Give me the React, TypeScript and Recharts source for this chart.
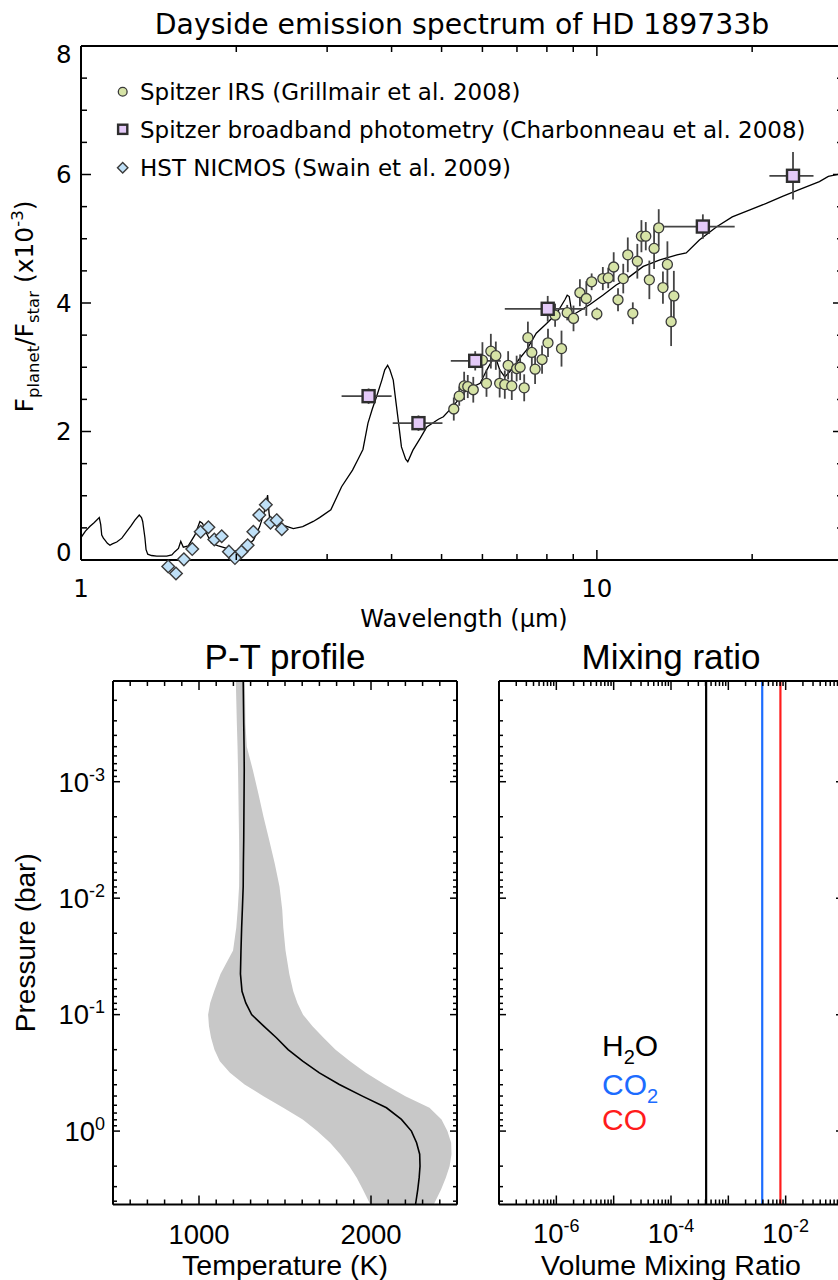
import React from 'react';
import { ComposedChart, Line, Scatter, ErrorBar, XAxis, YAxis, Area, Legend } from 'recharts';

const FONT_TOP = '"DejaVu Sans", sans-serif';
const FONT_BOT = '"Liberation Sans", Arial, sans-serif';

// ---------------- Top panel: dayside emission spectrum ----------------
// model spectrum: [wavelength (µm), Fplanet/Fstar (x1e-3)]
const modelSpectrum: [number, number][] = [
  [1.0, 0.35], [1.02, 0.45], [1.04, 0.52], [1.06, 0.58], [1.085, 0.66], [1.092, 0.55], [1.097, 0.39],
  [1.105, 0.34], [1.113, 0.31], [1.125, 0.26], [1.138, 0.23], [1.15, 0.25], [1.173, 0.28], [1.2, 0.34],
  [1.226, 0.44], [1.25, 0.53], [1.272, 0.62], [1.297, 0.7], [1.31, 0.66], [1.317, 0.6], [1.33, 0.35],
  [1.337, 0.16], [1.347, 0.09], [1.37, 0.07], [1.402, 0.06], [1.466, 0.06], [1.5, 0.08], [1.52, 0.13],
  [1.545, 0.18], [1.561, 0.29], [1.579, 0.2], [1.614, 0.22], [1.663, 0.39], [1.7, 0.6], [1.72, 0.57],
  [1.75, 0.42], [1.79, 0.26], [1.846, 0.22], [1.917, 0.18], [1.974, 0.13], [2.034, 0.16], [2.095, 0.21],
  [2.16, 0.31], [2.22, 0.52], [2.263, 0.73], [2.29, 0.93], [2.3, 1.01], [2.315, 0.73], [2.33, 0.54],
  [2.39, 0.6], [2.47, 0.54], [2.58, 0.49], [2.69, 0.52], [2.82, 0.6], [2.9, 0.66], [3.05, 0.78],
  [3.2, 1.14], [3.36, 1.4], [3.45, 1.58], [3.52, 1.72], [3.6, 2.13], [3.67, 2.35], [3.74, 2.54],
  [3.83, 2.8], [3.88, 2.96], [3.93, 3.03], [3.97, 2.96], [4.03, 2.8], [4.08, 2.45], [4.12, 2.18],
  [4.18, 1.76], [4.26, 1.57], [4.3, 1.53], [4.4, 1.71], [4.55, 1.9], [4.68, 2.07], [4.93, 2.19],
  [5.04, 2.23], [5.26, 2.39], [5.59, 2.65], [5.94, 2.75], [6.12, 2.96], [6.25, 3.09], [6.34, 3.19],
  [6.48, 2.96], [6.63, 2.85], [6.83, 2.96], [7.09, 3.14], [7.31, 3.27], [7.63, 3.53], [7.99, 3.68],
  [8.36, 3.84], [8.67, 4.05], [8.76, 4.12], [8.84, 4.1], [8.96, 3.81], [9.27, 3.88], [9.71, 3.98],
  [10.27, 4.12], [10.9, 4.28], [11.44, 4.38], [12.3, 4.57], [13.25, 4.67], [14.3, 4.75], [14.9, 4.78],
  [15.8, 4.98], [17.1, 5.19], [18.3, 5.34], [19.8, 5.45], [21.3, 5.55], [22.9, 5.66], [24.6, 5.76],
  [27.0, 5.89], [28.1, 5.97], [30.0, 6.02],
];

// Spitzer IRS (Grillmair et al. 2008)
const irsWavelength = [5.28, 5.41, 5.53, 5.62, 5.76, 6.0, 6.11, 6.23, 6.37, 6.48, 6.63, 6.73, 6.84, 6.99, 7.1, 7.23,
  7.35, 7.48, 7.59, 7.83, 8.04, 8.3, 8.54, 8.76, 9.01, 9.27, 9.54, 9.77, 10.0, 10.27, 10.52, 10.78, 10.99, 11.25,
  11.48, 11.74, 11.98, 12.2, 12.44, 12.64, 12.91, 13.18, 13.43, 13.7, 13.93, 14.1];
const irsFlux = [2.35, 2.55, 2.71, 2.7, 2.65, 3.11, 2.75, 3.25, 3.18, 2.75, 2.73, 3.03, 2.71, 2.98, 3.0, 2.68,
  3.46, 3.23, 2.97, 3.12, 3.38, 3.81, 3.29, 3.85, 3.76, 4.16, 4.07, 4.33, 3.83, 4.38, 4.39, 4.56, 4.05, 4.38,
  4.75, 3.84, 4.65, 5.04, 5.04, 4.36, 4.85, 5.17, 4.24, 4.6, 3.71, 4.11];
const irsError = [0.18, 0.15, 0.22, 0.18, 0.2, 0.28, 0.21, 0.27, 0.22, 0.22, 0.22, 0.22, 0.22, 0.2, 0.2, 0.21,
  0.25, 0.22, 0.23, 0.22, 0.22, 0.18, 0.28, 0.12, 0.2, 0.21, 0.27, 0.13, 0.1, 0.18, 0.16, 0.23, 0.18, 0.23,
  0.27, 0.17, 0.27, 0.25, 0.22, 0.3, 0.32, 0.29, 0.25, 0.36, 0.38, 0.39];

// Spitzer broadband photometry (Charbonneau et al. 2008)
const photWavelength = [3.61, 4.51, 5.81, 8.03, 16.05, 24.0];
const photFlux = [2.55, 2.13, 3.1, 3.91, 5.19, 5.98];
const photWaveErrLow = [0.41, 0.49, 0.6, 1.4, 2.55, 2.4];
const photWaveErrHigh = [0.39, 0.51, 0.7, 1.45, 2.45, 2.3];
const photFluxErr = [0.12, 0.12, 0.15, 0.2, 0.19, 0.37];

// HST NICMOS (Swain et al. 2009)
const hstWavelength = [1.476, 1.528, 1.583, 1.643, 1.706, 1.766, 1.813, 1.874, 1.935, 1.988, 2.048, 2.104,
  2.158, 2.216, 2.282, 2.33, 2.395, 2.45];
const hstFlux = [-0.1, -0.21, 0.01, 0.17, 0.44, 0.51, 0.32, 0.37, 0.13, 0.03, 0.13, 0.23, 0.44, 0.7, 0.86,
  0.58, 0.62, 0.48];

const legendLabels = [
  'Spitzer IRS (Grillmair et al. 2008)',
  'Spitzer broadband photometry (Charbonneau et al. 2008)',
  'HST NICMOS (Swain et al. 2009)',
];
const legendKinds = ['circle', 'square', 'diamond'];

const specXTicks = [1, 2, 3, 4, 5, 6, 7, 8, 9, 10, 20, 30];
const specXLabels = [1, 10];
const specYTicks = [0, 0.5, 1, 1.5, 2, 2.5, 3, 3.5, 4, 4.5, 5, 5.5, 6, 6.5, 7, 7.5, 8];
const specYLabels = [0, 2, 4, 6, 8];

// ---------------- Bottom-left: P-T profile ----------------
const ptPressure = [1.365e-4, 3.16e-4, 5.01e-4, 7.94e-4, 1.26e-3, 2.0e-3, 3.16e-3, 5.01e-3, 7.94e-3, 1.26e-2,
  1.78e-2, 2.82e-2, 4.47e-2, 6.31e-2, 7.94e-2, 0.1, 0.126, 0.158, 0.2, 0.251, 0.316, 0.398, 0.501, 0.631,
  0.794, 1.0, 1.26, 1.58, 2.0, 2.51, 3.16, 4.27];
const ptMean = [1257, 1260, 1262, 1263, 1262, 1261, 1260, 1258, 1257, 1252, 1248, 1244, 1241, 1250, 1272, 1306,
  1378, 1450, 1518, 1603, 1700, 1816, 1950, 2090, 2177, 2235, 2265, 2283, 2285, 2280, 2272, 2259];
const ptLow = [1214, 1220, 1224, 1227, 1229, 1231, 1233, 1234, 1233, 1225, 1217, 1198, 1125, 1088, 1065, 1053,
  1058, 1070, 1090, 1121, 1180, 1265, 1375, 1490, 1603, 1687, 1762, 1821, 1874, 1917, 1952, 1996];
const ptHigh = [1267, 1270, 1278, 1313, 1345, 1375, 1408, 1440, 1468, 1484, 1490, 1503, 1525, 1548, 1572, 1605,
  1660, 1724, 1794, 1878, 1970, 2080, 2200, 2340, 2410, 2444, 2466, 2468, 2457, 2435, 2408, 2365];

const tempTicks = [500, 600, 700, 800, 900, 1000, 1100, 1200, 1300, 1400, 1500, 1600, 1700, 1800, 1900, 2000,
  2100, 2200, 2300, 2400, 2500];
const tempLabels = [1000, 2000];
const pressureTicks = [2e-4, 3e-4, 4e-4, 5e-4, 6e-4, 7e-4, 8e-4, 9e-4, 1e-3, 2e-3, 3e-3, 4e-3, 5e-3, 6e-3, 7e-3,
  8e-3, 9e-3, 1e-2, 2e-2, 3e-2, 4e-2, 5e-2, 6e-2, 7e-2, 8e-2, 9e-2, 0.1, 0.2, 0.3, 0.4, 0.5, 0.6, 0.7, 0.8, 0.9,
  1, 2, 3, 4];
const pressureLabels = [1e-3, 1e-2, 1e-1, 1];

// ---------------- Bottom-right: mixing ratio ----------------
const speciesBase = ['H', 'CO', 'CO'];
const speciesSub = ['2', '2', ''];
const speciesTail = ['O', '', ''];
const speciesVmr = [4.1e-4, 3.9e-3, 8.1e-3];
const speciesKeys = ['h2o', 'co2', 'co'];
const speciesColor = ['#000000', '#1c6cff', '#ff1c1c'];

const vmrDecades = [1e-7, 1e-6, 1e-5, 1e-4, 1e-3, 1e-2, 1e-1];
const vmrMultipliers = [1, 2, 3, 4, 5, 6, 7, 8, 9];
const vmrTicks: number[] = [];
vmrDecades.forEach((d, i) => {
  if (i === vmrDecades.length - 1) vmrTicks.push(d);
  else vmrMultipliers.forEach((m) => vmrTicks.push(m * d));
});
const vmrLabels = [1e-6, 1e-4, 1e-2];

// ---------------- helpers ----------------
const near = (a: number, b: number) => Math.abs(a - b) <= Math.abs(b) * 1e-6 + 1e-12;
const isIn = (v: number, arr: number[]) => arr.some((a) => near(v, a));
const isDecade = (v: number) => {
  const l = Math.log10(v);
  return Math.abs(l - Math.round(l)) < 1e-6;
};

type Side = 'left' | 'right' | 'top' | 'bottom';
const makeTick = (
  side: Side,
  isMajor: (v: number) => boolean,
  major: number,
  minor: number,
  sw: number,
  label?: (v: number, x: number, y: number) => React.ReactNode,
) => (props: any) => {
  const { x, y, payload } = props;
  const v = payload.value;
  const len = isMajor(v) ? major : minor;
  let x2 = x;
  let y2 = y;
  if (side === 'left') x2 = x + len;
  else if (side === 'right') x2 = x - len;
  else if (side === 'top') y2 = y + len;
  else y2 = y - len;
  return (
    <g>
      <line x1={x} y1={y} x2={x2} y2={y2} stroke="#000" strokeWidth={sw} />
      {label ? label(v, x, y) : null}
    </g>
  );
};

const axisTop = { stroke: '#000', strokeWidth: 2 };

function Marker({ kind, cx, cy, s }: any) {
  if (kind === 'circle')
    return <circle cx={cx} cy={cy} r={s} fill="#d6e3a6" stroke="#3a3a3a" strokeWidth={1.3} />;
  if (kind === 'square')
    return (
      <rect x={cx - s} y={cy - s} width={2 * s} height={2 * s} fill="#e4caf8" stroke="#2e2e2e" strokeWidth={2.4} />
    );
  return (
    <polygon
      points={`${cx},${cy - s} ${cx + s},${cy} ${cx},${cy + s} ${cx - s},${cy}`}
      fill="#bfe0f7"
      stroke="#3a3a3a"
      strokeWidth={1.4}
    />
  );
}

const powLabel = (v: number, x: number, y: number, anchor: 'end' | 'middle') => {
  const e = Math.round(Math.log10(v));
  return (
    <text x={x} y={y} textAnchor={anchor} fontSize={27.5} fontFamily={FONT_BOT} fill="#000">
      10
      <tspan dy={-11} fontSize={18}>
        {String(e)}
      </tspan>
    </text>
  );
};

// ---------------- charts ----------------
function SpectrumChart() {
  const modelRows = modelSpectrum.map(([w, f]) => ({ w, f }));
  const irsRows = irsWavelength.map((w, i) => ({ w, f: irsFlux[i], ey: irsError[i] }));
  const photRows = photWavelength.map((w, i) => ({
    w,
    f: photFlux[i],
    ex: [photWaveErrLow[i], photWaveErrHigh[i]],
    ey: photFluxErr[i],
  }));
  const hstRows = hstWavelength.map((w, i) => ({ w, f: hstFlux[i] }));

  const xLabel = (v: number, x: number, y: number) =>
    isIn(v, specXLabels) ? (
      <text x={x} y={y + 36.5} textAnchor="middle" fontSize={24.5} fontFamily={FONT_TOP} fill="#000">
        {String(v)}
      </text>
    ) : null;
  const yLabel = (v: number, x: number, y: number) => {
    if (!isIn(v, specYLabels)) return null;
    const shift = v === 8 ? 8 : v === 0 ? -8 : 0;
    return (
      <text x={x - 9.5} y={y + 8.9 + shift} textAnchor="end" fontSize={24.5} fontFamily={FONT_TOP} fill="#000">
        {String(v)}
      </text>
    );
  };
  const majorX = (v: number) => isIn(v, specXLabels);
  const majorY = (v: number) => isIn(v, specYLabels);

  const legendContent = () => (
    <svg width={720} height={120} style={{ display: 'block' }}>
      {legendLabels.map((t, i) => {
        const cy = [21.7, 59.3, 97.7][i];
        const s = [4.4, 4.6, 5.2][i];
        return (
          <g key={t}>
            <Marker kind={legendKinds[i]} cx={22.7} cy={cy} s={s} />
            <text x={40} y={cy + 8.3} fontSize={23} fontFamily={FONT_TOP} fill="#000">
              {t}
            </text>
          </g>
        );
      })}
    </svg>
  );

  return (
    <ComposedChart width={860} height={640} data={modelRows} margin={{ top: 26, right: 7, bottom: 50, left: 41 }}>
      <XAxis
        xAxisId="b"
        dataKey="w"
        type="number"
        scale="log"
        domain={[1, 30]}
        allowDataOverflow
        ticks={specXTicks}
        interval={0}
        height={30}
        tickSize={0}
        tickMargin={0}
        tickLine={false}
        axisLine={axisTop}
        tick={makeTick('bottom', majorX, 10, 6, 1.5, xLabel)}
        label={() => (
          <text x={464} y={627} textAnchor="middle" fontSize={24} fontFamily={FONT_TOP} fill="#000">
            Wavelength (µm)
          </text>
        )}
      />
      <XAxis
        xAxisId="t"
        orientation="top"
        dataKey="w"
        type="number"
        scale="log"
        domain={[1, 30]}
        allowDataOverflow
        ticks={specXTicks}
        interval={0}
        height={20}
        tickSize={0}
        tickMargin={0}
        tickLine={false}
        axisLine={axisTop}
        tick={makeTick('top', majorX, 10, 6, 1.5)}
        label={() => (
          <text x={462} y={33.5} textAnchor="middle" fontSize={28.3} fontFamily={FONT_TOP} fill="#000">
            Dayside emission spectrum of HD 189733b
          </text>
        )}
      />
      <YAxis
        yAxisId="l"
        dataKey="f"
        type="number"
        domain={[0, 8]}
        allowDataOverflow
        ticks={specYTicks}
        interval={0}
        width={40}
        tickSize={0}
        tickMargin={0}
        tickLine={false}
        axisLine={axisTop}
        tick={makeTick('left', majorY, 10, 6, 1.5, yLabel)}
        label={() => (
          <text
            transform="translate(33,306.5) rotate(-90)"
            textAnchor="middle"
            fontSize={25}
            fontFamily={FONT_TOP}
            fill="#000"
            style={{ whiteSpace: 'pre' }}
          >
            F<tspan dy={6} fontSize={16.5}>planet</tspan>
            <tspan dy={-6}>/F</tspan>
            <tspan dy={6} fontSize={16.5}>star</tspan>
            <tspan dy={-6}>{' (x10'}</tspan>
            <tspan dy={-10} fontSize={16.5}>-3</tspan>
            <tspan dy={10}>)</tspan>
          </text>
        )}
      />
      <YAxis
        yAxisId="r"
        orientation="right"
        dataKey="f"
        type="number"
        domain={[0, 8]}
        allowDataOverflow
        ticks={specYTicks}
        interval={0}
        width={10}
        tickSize={0}
        tickMargin={0}
        tickLine={false}
        axisLine={axisTop}
        tick={makeTick('right', majorY, 10, 6, 1.5)}
      />
      <Line
        xAxisId="b"
        yAxisId="l"
        dataKey="f"
        type="linear"
        stroke="#000"
        strokeWidth={1.3}
        dot={false}
        isAnimationActive={false}
      />
      <Scatter
        xAxisId="b"
        yAxisId="l"
        data={irsRows}
        isAnimationActive={false}
        className="no-clip"
        shape={(p: any) => <Marker kind="circle" cx={p.cx} cy={p.cy} s={5} />}
      >
        <ErrorBar dataKey="ey" direction="y" width={0} stroke="#444" strokeWidth={1.8} isAnimationActive={false} />
      </Scatter>
      <Scatter
        xAxisId="b"
        yAxisId="l"
        data={photRows}
        isAnimationActive={false}
        className="no-clip"
        shape={(p: any) => <Marker kind="square" cx={p.cx} cy={p.cy} s={6} />}
      >
        <ErrorBar dataKey="ex" direction="x" width={0} stroke="#444" strokeWidth={1.8} isAnimationActive={false} />
        <ErrorBar dataKey="ey" direction="y" width={0} stroke="#444" strokeWidth={1.8} isAnimationActive={false} />
      </Scatter>
      <Scatter
        xAxisId="b"
        yAxisId="l"
        data={hstRows}
        isAnimationActive={false}
        className="no-clip"
        shape={(p: any) => <Marker kind="diamond" cx={p.cx} cy={p.cy} s={6.3} />}
      />
      <Legend
        layout="horizontal"
        verticalAlign="middle"
        align="center"
        content={legendContent}
        wrapperStyle={{ position: 'absolute', left: 100, top: 70, width: 720, height: 120 }}
      />
    </ComposedChart>
  );
}

function ProfileChart() {
  const rows = ptPressure.map((p, i) => ({ p, t: ptMean[i], band: [ptLow[i], ptHigh[i]] }));
  const majorT = (v: number) => isIn(v, tempLabels);
  const majorP = (v: number) => isDecade(v);
  const tLabel = (v: number, x: number, y: number) =>
    isIn(v, tempLabels) ? (
      <text x={x} y={y + 39} textAnchor="middle" fontSize={27.5} fontFamily={FONT_BOT} fill="#000">
        {String(v)}
      </text>
    ) : null;
  const pLabel = (v: number, x: number, y: number) =>
    isIn(v, pressureLabels) ? powLabel(v, x - 8, y + 9.8, 'end') : null;
  const domP: [number, number] = [ptPressure[0], ptPressure[ptPressure.length - 1]];

  return (
    <ComposedChart
      layout="vertical"
      width={470}
      height={660}
      data={rows}
      margin={{ top: 31, right: 3, bottom: 45.5, left: 53 }}
    >
      <Area
        xAxisId="b"
        yAxisId="l"
        dataKey="band"
        type="linear"
        fill="#c8c8c8"
        fillOpacity={1}
        stroke="none"
        isAnimationActive={false}
      />
      <Line
        xAxisId="b"
        yAxisId="l"
        dataKey="t"
        type="linear"
        stroke="#000"
        strokeWidth={1.6}
        dot={false}
        isAnimationActive={false}
      />
      <XAxis
        xAxisId="b"
        type="number"
        domain={[500, 2500]}
        allowDataOverflow
        ticks={tempTicks}
        interval={0}
        height={40}
        tickSize={0}
        tickMargin={0}
        tickLine={false}
        axisLine={axisTop}
        tick={makeTick('bottom', majorT, 9, 5, 1.5, tLabel)}
        label={() => (
          <text x={285} y={644.7} textAnchor="middle" fontSize={28.5} fontFamily={FONT_BOT} fill="#000">
            Temperature (K)
          </text>
        )}
      />
      <XAxis
        xAxisId="t"
        orientation="top"
        type="number"
        domain={[500, 2500]}
        allowDataOverflow
        ticks={tempTicks}
        interval={0}
        height={20}
        tickSize={0}
        tickMargin={0}
        tickLine={false}
        axisLine={axisTop}
        tick={makeTick('top', majorT, 9, 5, 1.5)}
        label={() => (
          <text x={285} y={38.6} textAnchor="middle" fontSize={35} fontFamily={FONT_BOT} fill="#000">
            P-T profile
          </text>
        )}
      />
      <YAxis
        yAxisId="l"
        dataKey="p"
        type="number"
        scale="log"
        domain={domP}
        allowDataOverflow
        ticks={pressureTicks}
        interval={0}
        width={60}
        tickSize={0}
        tickMargin={0}
        tickLine={false}
        axisLine={axisTop}
        tick={makeTick('left', majorP, 7, 4, 1.5, pLabel)}
        label={() => (
          <text
            transform="translate(35,312.7) rotate(-90)"
            textAnchor="middle"
            fontSize={28}
            fontFamily={FONT_BOT}
            fill="#000"
          >
            Pressure (bar)
          </text>
        )}
      />
      <YAxis
        yAxisId="r"
        orientation="right"
        dataKey="p"
        type="number"
        scale="log"
        domain={domP}
        allowDataOverflow
        ticks={pressureTicks}
        interval={0}
        width={10}
        tickSize={0}
        tickMargin={0}
        tickLine={false}
        axisLine={axisTop}
        tick={makeTick('right', majorP, 7, 4, 1.5)}
      />
    </ComposedChart>
  );
}

function MixingChart() {
  const pEnds = [ptPressure[0], ptPressure[ptPressure.length - 1]];
  const rows = pEnds.map((p) => {
    const r: any = { p };
    speciesKeys.forEach((k, i) => (r[k] = speciesVmr[i]));
    return r;
  });
  const domP: [number, number] = [pEnds[0], pEnds[1]];
  const majorV = (v: number) => isDecade(v);
  const majorP = (v: number) => isDecade(v);
  const vLabel = (v: number, x: number, y: number) =>
    isIn(v, vmrLabels) ? powLabel(v, x, y + 38, 'middle') : null;

  const legendContent = () => (
    <svg width={200} height={130} style={{ display: 'block' }}>
      {speciesKeys.map((k, i) => (
        <text key={k} x={0} y={[26.3, 65.1, 99.8][i]} fontSize={30} fontFamily={FONT_BOT} fill={speciesColor[i]}>
          {speciesBase[i]}
          {speciesSub[i] ? (
            <tspan dy={8} fontSize={20}>
              {speciesSub[i]}
            </tspan>
          ) : null}
          {speciesTail[i] ? <tspan dy={-8}>{speciesTail[i]}</tspan> : null}
        </text>
      ))}
    </svg>
  );

  return (
    <ComposedChart
      layout="vertical"
      width={400}
      height={660}
      data={rows}
      margin={{ top: 31, right: 17, bottom: 45.5, left: 9 }}
    >
      {speciesKeys.map((k, i) => (
        <Line
          key={k}
          xAxisId="b"
          yAxisId="l"
          dataKey={k}
          type="linear"
          stroke={speciesColor[i]}
          strokeWidth={2.2}
          dot={false}
          isAnimationActive={false}
        />
      ))}
      <XAxis
        xAxisId="b"
        type="number"
        scale="log"
        domain={[1e-7, 1e-1]}
        allowDataOverflow
        ticks={vmrTicks}
        interval={0}
        height={40}
        tickSize={0}
        tickMargin={0}
        tickLine={false}
        axisLine={axisTop}
        tick={makeTick('bottom', majorV, 9, 5, 1.5, vLabel)}
        label={() => (
          <text x={201} y={644.7} textAnchor="middle" fontSize={28.5} fontFamily={FONT_BOT} fill="#000">
            Volume Mixing Ratio
          </text>
        )}
      />
      <XAxis
        xAxisId="t"
        orientation="top"
        type="number"
        scale="log"
        domain={[1e-7, 1e-1]}
        allowDataOverflow
        ticks={vmrTicks}
        interval={0}
        height={20}
        tickSize={0}
        tickMargin={0}
        tickLine={false}
        axisLine={axisTop}
        tick={makeTick('top', majorV, 9, 5, 1.5)}
        label={() => (
          <text x={201} y={38.6} textAnchor="middle" fontSize={35} fontFamily={FONT_BOT} fill="#000">
            Mixing ratio
          </text>
        )}
      />
      <YAxis
        yAxisId="l"
        dataKey="p"
        type="number"
        scale="log"
        domain={domP}
        allowDataOverflow
        ticks={pressureTicks}
        interval={0}
        width={20}
        tickSize={0}
        tickMargin={0}
        tickLine={false}
        axisLine={axisTop}
        tick={makeTick('left', majorP, 7, 4, 1.5)}
      />
      <YAxis
        yAxisId="r"
        orientation="right"
        dataKey="p"
        type="number"
        scale="log"
        domain={domP}
        allowDataOverflow
        ticks={pressureTicks}
        interval={0}
        width={10}
        tickSize={0}
        tickMargin={0}
        tickLine={false}
        axisLine={axisTop}
        tick={makeTick('right', majorP, 7, 4, 1.5)}
      />
      <Legend
        layout="horizontal"
        verticalAlign="middle"
        align="center"
        content={legendContent}
        wrapperStyle={{ position: 'absolute', left: 131.7, top: 400, width: 200, height: 130 }}
      />
    </ComposedChart>
  );
}

export default function App() {
  return (
    <div
      style={{
        position: 'absolute',
        left: 0,
        top: 0,
        width: 838,
        height: 1280,
        overflow: 'hidden',
        background: '#fff',
      }}
    >
      <style>{'.no-clip { clip-path: none !important; }'}</style>
      <div style={{ position: 'absolute', left: 0, top: 0 }}>
        <SpectrumChart />
      </div>
      <div style={{ position: 'absolute', left: 0, top: 630 }}>
        <ProfileChart />
      </div>
      <div style={{ position: 'absolute', left: 470, top: 630 }}>
        <MixingChart />
      </div>
    </div>
  );
}
